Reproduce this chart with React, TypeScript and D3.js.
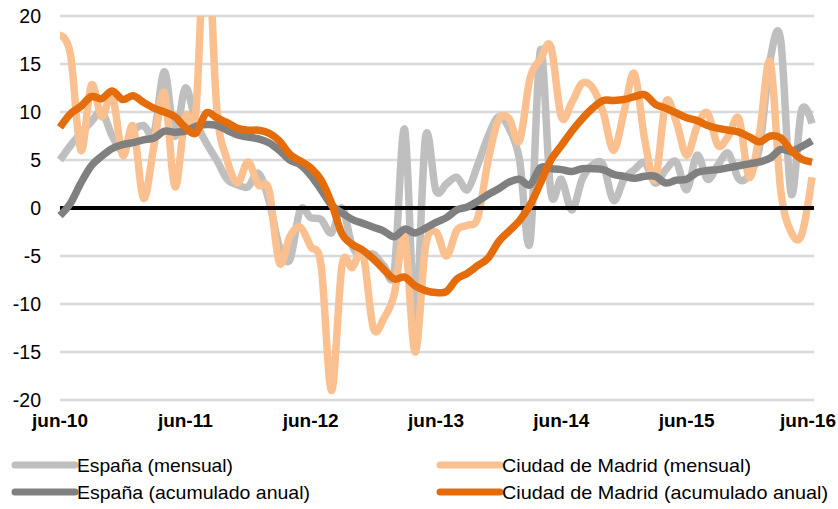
import React from "react";
import * as d3 from "d3";

const months: string[] = d3.range(73).map((i) => `m${i}`);
const tickLabels = ["jun-10", "jun-11", "jun-12", "jun-13", "jun-14", "jun-15", "jun-16"];
const yTicks = [20, 15, 10, 5, 0, -5, -10, -15, -20];

const espanaMensual = [
  5.0, 6.5, 7.8, 9.0, 10.0, 7.5, 6.0, 8.0, 8.6, 7.8, 14.2, 7.5, 12.5, 9.0, 6.8, 5.0, 3.0, 2.4, 2.2, 3.6,
  0.8, -4.0, -5.4, -0.2, -1.0, -1.2, -2.6, 0.0, -4.0, -5.0, -4.8, -6.0, -6.5, 8.2, -11.5, 7.4, 1.8, 2.5, 3.2, 1.9,
  4.5, 7.5, 9.5, 8.3, 5.0, -3.6, 16.5, 1.6, 3.0, -0.2, 3.0, 4.5, 4.5, 0.8, 3.0, 4.0, 4.7, 2.6, 4.0, 4.8,
  1.9, 5.5, 3.0, 4.5, 5.7, 3.0, 3.5, 6.5, 15.5, 17.5, 1.5, 10.2, 8.8,
];
const madridMensual = [
  18.0, 16.0, 6.0, 12.8, 9.5, 11.8, 5.5, 8.5, 1.0, 6.5, 12.0, 2.2, 9.5, 10.0, 30.0, 10.5, 5.0, 2.6, 4.8, 2.4,
  1.9, -5.7, -3.0, -2.0, -4.0, -6.0, -19.0, -6.0, -6.2, -4.7, -12.5, -11.5, -9.0, -3.0, -15.0, -4.0, -2.5, -5.0, -2.3, -1.8,
  -1.0, 5.0, 9.2, 9.3, 7.0, 13.5, 15.5, 16.8, 9.5, 11.0, 13.0, 12.5, 10.0, 6.0, 10.0, 14.0, 7.0, 3.0, 11.0, 9.0,
  5.5, 8.5, 9.9, 6.5, 7.5, 9.3, 3.2, 8.0, 15.2, 1.9, -2.5, -2.8, 3.2,
];
const espanaAcum = [
  -0.8, 0.5, 2.6, 4.4, 5.4, 6.2, 6.6, 6.8, 7.1, 7.3, 8.0, 7.9, 8.0, 8.5, 8.7, 8.6, 8.1, 7.6, 7.4, 7.2,
  6.8, 6.0, 5.0, 4.5, 3.4, 1.9, 0.3, -0.5, -1.2, -1.6, -2.0, -2.4, -3.0, -2.2, -2.6, -2.1, -1.5, -1.0, -0.2, 0.1,
  0.7, 1.4, 2.0, 2.7, 3.0, 2.4, 4.2, 4.1, 4.0, 3.8, 4.1, 4.1, 4.0, 3.5, 3.3, 3.1, 3.3, 3.3, 2.6, 2.9,
  3.0, 3.7, 3.9, 4.0, 4.2, 4.4, 4.6, 4.8, 5.2, 6.1, 5.9, 6.4, 7.0,
];
const madridAcum = [
  8.4, 9.8, 10.6, 11.6, 11.4, 12.2, 11.3, 11.7, 11.0, 10.4, 10.0, 9.5, 8.4, 7.8, 9.9, 9.4, 8.9, 8.3, 8.1, 8.1,
  7.8, 7.0, 5.6, 4.9, 4.2, 2.9, 0.5, -2.7, -3.8, -4.4, -5.3, -6.4, -7.4, -7.2, -8.1, -8.6, -8.8, -8.7, -7.4, -6.8,
  -6.0, -5.2, -3.5, -2.4, -1.3, 0.3, 2.6, 5.0, 6.5, 8.0, 9.3, 10.4, 11.2, 11.2, 11.3, 11.6, 11.8, 10.8, 10.4, 9.9,
  9.4, 9.1, 8.6, 8.3, 8.1, 7.9, 7.4, 6.9, 7.5, 7.3, 6.0, 5.1, 4.8,
];

const seriesNames = [
  "España (mensual)",
  "Ciudad de Madrid (mensual)",
  "España (acumulado anual)",
  "Ciudad de Madrid (acumulado anual)",
];
const seriesData = [espanaMensual, madridMensual, espanaAcum, madridAcum];
const seriesColors = ["#bfbfbf", "#fac090", "#808080", "#e46c0a"];
const legendTextWidths = [156, 249, 233, 326];

const W = 838;
const H = 509;
const left = 60;
const right = 812;
const top = 16;
const bottom = 400;

export default function App() {
  const x = d3.scaleLinear().domain([0, months.length - 1]).range([left, right]);
  const y = d3.scaleLinear().domain([-20, 20]).range([bottom, top]);
  const line = d3
    .line<number>()
    .x((_, i) => x(i))
    .y((d) => y(d))
    .curve(d3.curveCatmullRom.alpha(0));

  const legendPos = [
    { sx: 15, tx: 77, y: 465 },
    { sx: 440, tx: 502, y: 465 },
    { sx: 15, tx: 77, y: 492 },
    { sx: 440, tx: 502, y: 492 },
  ];

  return (
    <svg
      width={W}
      height={H}
      style={{ position: "absolute", left: 0, top: 0, background: "#fff" }}
      fontFamily="'Liberation Sans', Arial, sans-serif"
    >
      <defs>
        <clipPath id="plotClip">
          <rect x={0} y={y(20)} width={W} height={y(-20) - y(20) + 10} />
        </clipPath>
      </defs>
      {yTicks.map((t) => (
        <g key={t}>
          {t !== 0 && (
            <line x1={left} x2={814} y1={y(t)} y2={y(t)} stroke="#d9d9d9" strokeWidth={2.5} />
          )}
          <text x={41} y={y(t)} textAnchor="end" dominantBaseline="central" fontSize={19.5} fill="#000">
            {t}
          </text>
        </g>
      ))}
      <g clipPath="url(#plotClip)">
        {seriesData.slice(0, 2).map((d, k) => (
          <path key={k} d={line(d) || ""} fill="none" stroke={seriesColors[k]} strokeWidth={7.5} strokeLinejoin="round" />
        ))}
      </g>
      <line x1={left} x2={814} y1={y(0)} y2={y(0)} stroke="#000" strokeWidth={4} />
      <g clipPath="url(#plotClip)">
        {seriesData.slice(2).map((d, k) => (
          <path key={k} d={line(d) || ""} fill="none" stroke={seriesColors[k + 2]} strokeWidth={7.5} strokeLinejoin="round" />
        ))}
      </g>
      {tickLabels.map((lab, i) => {
        const last = i === tickLabels.length - 1;
        return (
          <text
            key={lab}
            x={last ? W - 2 : x(i * 12)}
            y={427}
            textAnchor={last ? "end" : "middle"}
            fontSize={19}
            fontWeight="bold"
            fill="#000"
          >
            {lab}
          </text>
        );
      })}
      {seriesNames.map((n, k) => (
        <g key={n}>
          <line
            x1={legendPos[k].sx}
            x2={legendPos[k].sx + 60}
            y1={legendPos[k].y}
            y2={legendPos[k].y}
            stroke={seriesColors[k]}
            strokeWidth={7}
            strokeLinecap="round"
          />
          <text
            x={legendPos[k].tx}
            y={legendPos[k].y}
            dominantBaseline="central"
            fontSize={19}
            textLength={legendTextWidths[k]}
            lengthAdjust="spacingAndGlyphs"
            fill="#000"
          >
            {n}
          </text>
        </g>
      ))}
    </svg>
  );
}
